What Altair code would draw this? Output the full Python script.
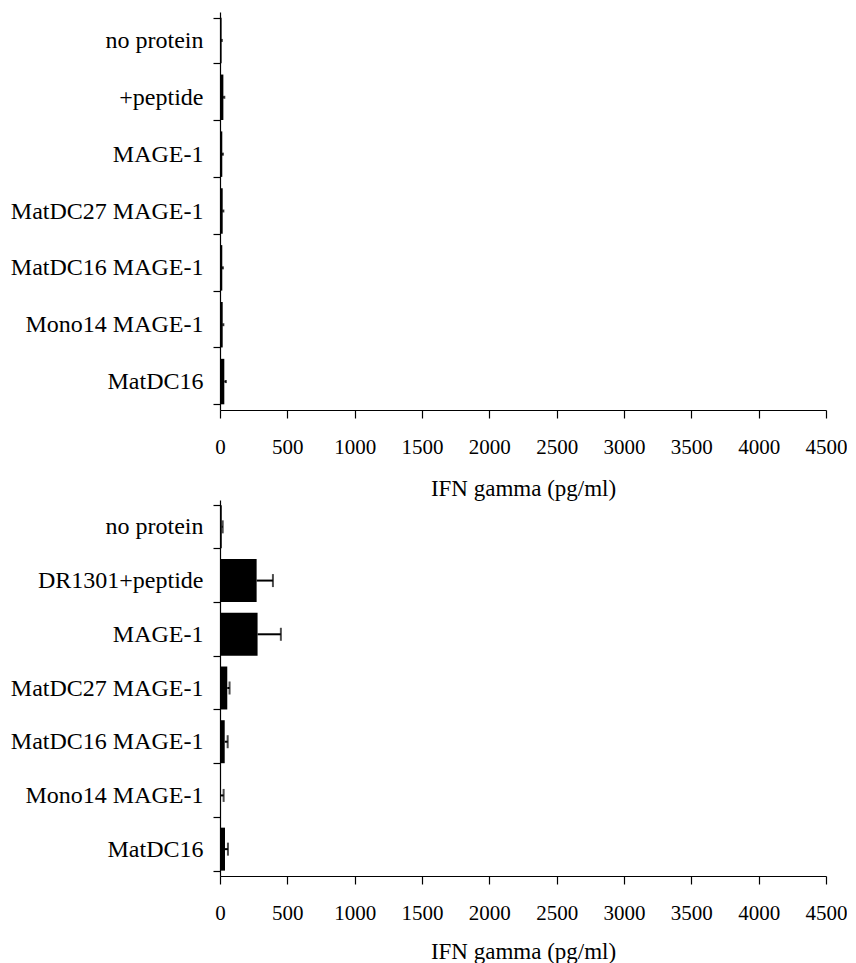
import altair as alt
import pandas as pd

FONT = "Liberation Serif"

top_categories = ["no protein", "+peptide", "MAGE-1", "MatDC27 MAGE-1",
                  "MatDC16 MAGE-1", "Mono14 MAGE-1", "MatDC16"]
top_values = [12, 25, 17, 20, 17, 20, 32]
top_errors = [2, 7, 5, 5, 5, 5, 12]

bottom_categories = ["no protein", "DR1301+peptide", "MAGE-1", "MatDC27 MAGE-1",
                     "MatDC16 MAGE-1", "Mono14 MAGE-1", "MatDC16"]
bottom_values = [13, 272, 279, 54, 35, 4, 37]
bottom_errors = [7, 121, 173, 17, 22, 23, 22]

x_ticks = [0, 500, 1000, 1500, 2000, 2500, 3000, 3500, 4000, 4500]
x_title = "IFN gamma (pg/ml)"


def panel(cats, vals, errs, height, cap, title_pad):
    df = pd.DataFrame({
        "cat": cats,
        "value": vals,
        "upper": [v + e for v, e in zip(vals, errs)],
    })
    y = alt.Y("cat:N", sort=cats, title=None,
              scale=alt.Scale(paddingInner=0.2, paddingOuter=0.1),
              axis=alt.Axis(tickBand="extent", tickSize=7, labelPadding=10,
                            labelFontSize=24, labelLimit=400))
    x = alt.X("value:Q", title=x_title,
              scale=alt.Scale(domain=[0, 4500], nice=False),
              axis=alt.Axis(values=x_ticks, format="d", tickSize=8, labelPadding=18,
                            titlePadding=title_pad, labelFontSize=21, titleFontSize=23,
                            labelFlush=False))
    y_plain = alt.Y("cat:N", sort=cats, title=None)
    base = alt.Chart(df)
    bars = base.mark_bar(color="black").encode(x=x, y=y)
    rule = base.mark_rule(color="black", strokeWidth=2).encode(
        x=alt.X("value:Q", title=x_title), x2="upper:Q", y=y_plain)
    caps = base.mark_tick(color="black", thickness=2, size=cap).encode(
        x=alt.X("upper:Q", title=x_title), y=y_plain)
    return alt.layer(bars, rule, caps).properties(width=606, height=height)


top = panel(top_categories, top_values, top_errors, 398, 3, 20)
bottom = panel(bottom_categories, bottom_values, bottom_errors, 376, 13, 17)

chart = alt.vconcat(top, bottom, spacing=-22).properties(
    padding={"left": 2, "top": -8, "right": 0, "bottom": 0}
).configure_view(stroke=None).configure_axis(
    grid=False, domainColor="black", tickColor="black", labelColor="black",
    titleColor="black", labelFont=FONT, titleFont=FONT, titleFontWeight="normal",
    domainWidth=1.2, tickWidth=1.2
)

chart.save("out.html", embed_options={"renderer": "svg", "actions": False})
